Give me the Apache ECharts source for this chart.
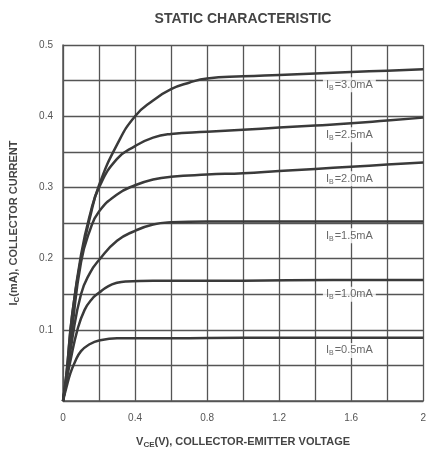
<!DOCTYPE html>
<html>
<head>
<meta charset="utf-8">
<script src="https://cdn.jsdelivr.net/npm/echarts@6/dist/echarts.min.js"></script>
<style>
  html, body { margin: 0; padding: 0; background: #fff; }
  #chart { width: 429px; height: 454px; }
</style>
</head>
<body>
<div id="chart"></div>
<script>
// base currents (mA) for each curve
var baseCurrents = ['3.0', '2.5', '2.0', '1.5', '1.0', '0.5'];

// Vce (V) / Ic (mA) points, one pair of arrays per curve
var vce30 = [0, 0.02, 0.05, 0.1, 0.15, 0.2, 0.3, 0.4, 0.5, 0.6, 0.7, 0.8, 1.0, 1.2, 1.4, 1.6, 1.8, 2.0];
var ic30  = [0, 0.04, 0.12, 0.2, 0.258, 0.303, 0.36, 0.40, 0.422, 0.438, 0.447, 0.453, 0.456, 0.458, 0.460, 0.462, 0.464, 0.466];

var vce25 = [0, 0.02, 0.05, 0.1, 0.15, 0.2, 0.3, 0.4, 0.5, 0.6, 0.8, 1.0, 1.2, 1.4, 1.6, 1.8, 2.0];
var ic25  = [0, 0.04, 0.118, 0.205, 0.262, 0.30, 0.34, 0.358, 0.37, 0.375, 0.378, 0.381, 0.384, 0.387, 0.390, 0.394, 0.398];

var vce20 = [0, 0.02, 0.05, 0.1, 0.15, 0.2, 0.3, 0.4, 0.5, 0.6, 0.8, 1.0, 1.2, 1.4, 1.6, 1.8, 2.0];
var ic20  = [0, 0.035, 0.1, 0.195, 0.24, 0.266, 0.29, 0.303, 0.311, 0.315, 0.318, 0.320, 0.323, 0.326, 0.329, 0.332, 0.335];

var vce15 = [0, 0.02, 0.05, 0.1, 0.15, 0.2, 0.3, 0.4, 0.5, 0.6, 0.8, 1.2, 1.6, 2.0];
var ic15  = [0, 0.03, 0.085, 0.15, 0.18, 0.198, 0.225, 0.239, 0.248, 0.251, 0.252, 0.252, 0.252, 0.252];

var vce10 = [0, 0.02, 0.04, 0.08, 0.12, 0.16, 0.2, 0.25, 0.3, 0.35, 0.5, 1.0, 1.5, 2.0];
var ic10  = [0, 0.03, 0.055, 0.1, 0.128, 0.143, 0.152, 0.161, 0.166, 0.168, 0.169, 0.169, 0.17, 0.17];

var vce05 = [0, 0.02, 0.04, 0.065, 0.1, 0.15, 0.2, 0.3, 0.6, 1.0, 1.5, 2.0];
var ic05  = [0, 0.02, 0.038, 0.054, 0.07, 0.08, 0.085, 0.088, 0.088, 0.089, 0.089, 0.089];

// where the curve labels sit
var labelV = [1.59, 1.59, 1.59, 1.59, 1.59, 1.59];
var labelI = [0.444, 0.374, 0.312, 0.232, 0.150, 0.071];

// tick labels
var xTickLabels = ['0', '0.4', '0.8', '1.2', '1.6', '2'];
var yTickLabels = ['0.1', '0.2', '0.3', '0.4', '0.5'];

var curves = [[vce30, ic30], [vce25, ic25], [vce20, ic20], [vce15, ic15], [vce10, ic10], [vce05, ic05]];

function pairs(xs, ys) {
  return xs.map(function (x, i) { return [x, ys[i]]; });
}

var ink = '#3a3a3a';
var gridInk = '#555';

var series = curves.map(function (c, i) {
  return {
    name: 'IB=' + baseCurrents[i] + 'mA',
    type: 'line',
    data: pairs(c[0], c[1]),
    smooth: 0.5,
    showSymbol: false,
    lineStyle: { color: ink, width: 2.5 },
    z: 3
  };
});

series.push({
  type: 'scatter',
  symbolSize: 0,
  z: 5,
  data: baseCurrents.map(function (b, i) { return [labelV[i], labelI[i], b]; }),
  label: {
    show: true,
    position: 'inside',
    backgroundColor: '#fff',
    padding: [1, 3],
    formatter: function (p) { return '{a|I}{b|B}{a|=' + p.value[2] + 'mA}'; },
    rich: {
      a: { fontSize: 11, color: '#444', fontFamily: 'Liberation Sans', lineHeight: 13 },
      b: { fontSize: 7, color: '#444', fontFamily: 'Liberation Sans', verticalAlign: 'bottom', lineHeight: 13, padding: [4, 1, 0, 0] }
    }
  }
});

var chart = echarts.init(document.getElementById('chart'));
chart.setOption({
  animation: false,
  backgroundColor: '#fff',
  title: {
    text: 'STATIC CHARACTERISTIC',
    left: 238,
    textAlign: 'center',
    top: 7,
    textStyle: { fontSize: 14, fontWeight: 'bold', color: '#444', fontFamily: 'Liberation Sans' }
  },
  grid: { left: 60, right: 4, top: 45, bottom: 45 },
  xAxis: {
    type: 'value',
    min: 0, max: 2, interval: 0.2,
    name: '{a|V}{b|CE}{a|(V), COLLECTOR-EMITTER VOLTAGE}',
    nameLocation: 'middle',
    nameGap: 34,
    nameTextStyle: {
      rich: {
        a: { fontSize: 11, fontWeight: 'bold', color: '#444', fontFamily: 'Liberation Sans', lineHeight: 14 },
        b: { fontSize: 8, fontWeight: 'bold', color: '#444', fontFamily: 'Liberation Sans', lineHeight: 14, verticalAlign: 'bottom', padding: [5, 0, 0, 0] }
      }
    },
    axisLine: { lineStyle: { color: gridInk, width: 1.5 } },
    axisTick: { show: false },
    splitLine: { lineStyle: { color: gridInk, width: 1.3 } },
    axisLabel: {
      margin: 12,
      fontSize: 10,
      color: '#555',
      fontFamily: 'Liberation Sans',
      formatter: function (v) {
        var k = Math.round(v * 10);
        return k % 4 === 0 ? xTickLabels[k / 4] : '';
      }
    }
  },
  yAxis: {
    type: 'value',
    min: 0, max: 0.5, interval: 0.05,
    name: '{a|I}{b|C}{a|(mA), COLLECTOR CURRENT}',
    nameLocation: 'middle',
    nameGap: 42,
    nameTextStyle: {
      rich: {
        a: { fontSize: 11, fontWeight: 'bold', color: '#444', fontFamily: 'Liberation Sans', lineHeight: 14 },
        b: { fontSize: 8, fontWeight: 'bold', color: '#444', fontFamily: 'Liberation Sans', lineHeight: 14, verticalAlign: 'bottom', padding: [5, 0, 0, 0] }
      }
    },
    axisLine: { show: true, lineStyle: { color: gridInk, width: 1.5 } },
    axisTick: { show: false },
    splitLine: { lineStyle: { color: gridInk, width: 1.3 } },
    axisLabel: {
      margin: 10,
      fontSize: 10,
      color: '#555',
      fontFamily: 'Liberation Sans',
      formatter: function (v) {
        var k = Math.round(v * 100);
        return (k > 0 && k % 10 === 0) ? yTickLabels[k / 10 - 1] : '';
      }
    }
  },
  series: series
});
</script>
</body>
</html>
